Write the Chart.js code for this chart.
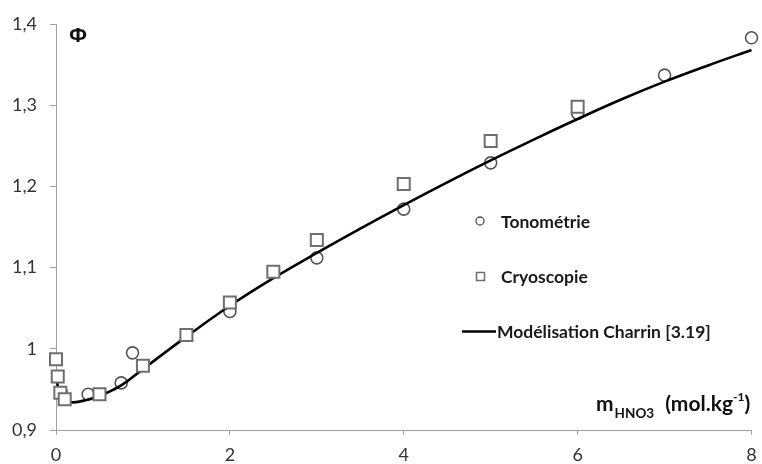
<!DOCTYPE html>
<html>
<head>
<meta charset="utf-8">
<script src="https://cdn.jsdelivr.net/npm/chart.js@4.4.1/dist/chart.umd.min.js"></script>
<style>
  html, body { margin: 0; padding: 0; background: #fff; }
  #wrap { width: 762px; height: 464px; }
</style>
</head>
<body>
<div id="wrap"><canvas id="c" width="762" height="464"></canvas></div>
<script>
// Osmotic coefficient of HNO3 solutions vs molality
const tonoM   = [0.06, 0.37, 0.75, 0.88, 2, 3, 4, 5, 6, 7, 8];
const tonoPhi = [0.946, 0.944, 0.958, 0.995, 1.046, 1.112, 1.172, 1.229, 1.290, 1.337, 1.383];

const cryoM   = [0, 0.02, 0.05, 0.1, 0.5, 1, 1.5, 2, 2.5, 3, 4, 5, 6];
const cryoPhi = [0.987, 0.966, 0.946, 0.938, 0.944, 0.979, 1.017, 1.057, 1.095, 1.134, 1.203, 1.256, 1.298];

const modelM   = [0.01, 0.03, 0.06, 0.1, 0.2, 0.35, 0.5, 0.75, 1, 1.5, 2, 2.5, 3, 3.5, 4, 4.5, 5, 5.5, 6, 6.5, 7, 7.5, 8];
const modelPhi = [0.962, 0.948, 0.940, 0.936, 0.934, 0.937, 0.942, 0.955, 0.975, 1.015, 1.053, 1.087, 1.118, 1.148, 1.177, 1.205, 1.232, 1.258, 1.283, 1.307, 1.329, 1.349, 1.368];

const xTicks = [0, 2, 4, 6, 8];
const yTicks = [0.9, 1.0, 1.1, 1.2, 1.3, 1.4];

const seriesNames = ['Tonométrie', 'Cryoscopie', 'Modélisation Charrin [3.19]'];

const pts = (xs, ys) => xs.map((x, i) => ({ x: x, y: ys[i] }));

const fmtY = v => {
  const r = Math.round(v * 10) / 10;
  return Math.abs(r - Math.round(r)) < 1e-9 ? String(Math.round(r)) : r.toFixed(1).replace('.', ',');
};

const AXIS = '#a0a0a0';
const TEXT = '#333333';

// Legend and axis annotations drawn onto the canvas after the chart
const annotations = {
  id: 'annotations',
  afterDraw(chart) {
    const ctx = chart.ctx;
    ctx.save();
    // Φ label
    ctx.fillStyle = '#111';
    ctx.font = 'bold 20px "Noto Sans", "DejaVu Sans", sans-serif';
    ctx.textBaseline = 'middle';
    ctx.textAlign = 'center';
    ctx.fillText('Φ', 78, 36);

    // x axis title: m_HNO3 (mol.kg-1)
    ctx.textAlign = 'left';
    ctx.textBaseline = 'alphabetic';
    ctx.fillStyle = '#111';
    let x = 596;
    ctx.font = 'bold 21px Lato, sans-serif';
    ctx.fillText('m', x, 411);
    x += ctx.measureText('m').width + 1;
    ctx.font = 'bold 13.5px Lato, sans-serif';
    ctx.fillText('HNO3', x, 418);
    x += ctx.measureText('HNO3').width + 11;
    ctx.font = 'bold 21px Lato, sans-serif';
    ctx.fillText('(mol.kg', x, 411);
    x += ctx.measureText('(mol.kg').width;
    ctx.font = 'bold 12px Lato, sans-serif';
    ctx.fillText('-1', x, 401);
    x += ctx.measureText('-1').width;
    ctx.font = 'bold 21px Lato, sans-serif';
    ctx.fillText(')', x, 411);

    // legend
    const ds = chart.data.datasets;
    const tono = ds.find(d => d.label === seriesNames[0]);
    const cryo = ds.find(d => d.label === seriesNames[1]);
    const model = ds.find(d => d.label === seriesNames[2]);

    ctx.lineWidth = 1.3;
    ctx.strokeStyle = tono.borderColor;
    ctx.beginPath();
    ctx.arc(480, 221, 4, 0, Math.PI * 2);
    ctx.stroke();

    ctx.strokeStyle = cryo.borderColor;
    ctx.lineWidth = 1.5;
    ctx.strokeRect(476.5, 272.5, 8, 8);

    ctx.strokeStyle = model.borderColor;
    ctx.lineWidth = 2.5;
    ctx.beginPath();
    ctx.moveTo(462, 331.5);
    ctx.lineTo(496, 331.5);
    ctx.stroke();

    ctx.fillStyle = '#1a1a1a';
    ctx.font = 'bold 17.5px Lato, sans-serif';
    ctx.textBaseline = 'middle';
    ctx.fillText(seriesNames[0], 501, 222);
    ctx.fillText(seriesNames[1], 501, 277);
    ctx.fillText(seriesNames[2], 497, 332);
    ctx.restore();
  }
};

new Chart(document.getElementById('c'), {
  type: 'scatter',
  data: {
    datasets: [
      {
        label: seriesNames[1],
        data: pts(cryoM, cryoPhi),
        pointStyle: 'rect',
        pointRadius: 8.5,
        borderColor: '#6e6e6e',
        backgroundColor: '#ffffff',
        borderWidth: 2,
        clip: false,
        order: 0
      },
      {
        label: seriesNames[2],
        data: pts(modelM, modelPhi),
        showLine: true,
        pointRadius: 0,
        borderColor: '#000000',
        borderWidth: 2.6,
        tension: 0.4,
        fill: false,
        clip: false,
        order: 1
      },
      {
        label: seriesNames[0],
        data: pts(tonoM, tonoPhi),
        pointStyle: 'circle',
        pointRadius: 6,
        borderColor: '#555555',
        backgroundColor: 'rgba(255,255,255,0)',
        borderWidth: 1.6,
        clip: false,
        order: 2
      }
    ]
  },
  options: {
    responsive: false,
    animation: false,
    layout: { padding: { top: 24, right: 10, left: 0, bottom: 0 } },
    plugins: { legend: { display: false }, tooltip: { enabled: false } },
    scales: {
      x: {
        type: 'linear',
        min: 0, max: 8,
        afterBuildTicks: s => { s.ticks = xTicks.map(v => ({ value: v })); },
        ticks: { color: TEXT, font: { family: 'Lato', size: 18 }, padding: 9, maxRotation: 0 },
        grid: { drawOnChartArea: false, drawTicks: true, tickLength: 5, color: AXIS },
        border: { display: true, color: AXIS, width: 1 },
        afterFit: s => { s.height = 34; s.paddingLeft = 0; s.paddingRight = 0; }
      },
      y: {
        type: 'linear',
        min: 0.9, max: 1.4,
        afterBuildTicks: s => { s.ticks = yTicks.map(v => ({ value: v })); },
        ticks: { color: TEXT, font: { family: 'Lato', size: 18 }, padding: 13, callback: v => fmtY(v) },
        grid: { drawOnChartArea: false, drawTicks: true, tickLength: 6, color: AXIS },
        border: { display: true, color: AXIS, width: 1 },
        afterFit: s => { s.width = 56; s.paddingTop = 0; s.paddingBottom = 0; }
      }
    }
  },
  plugins: [annotations]
});
</script>
</body>
</html>
